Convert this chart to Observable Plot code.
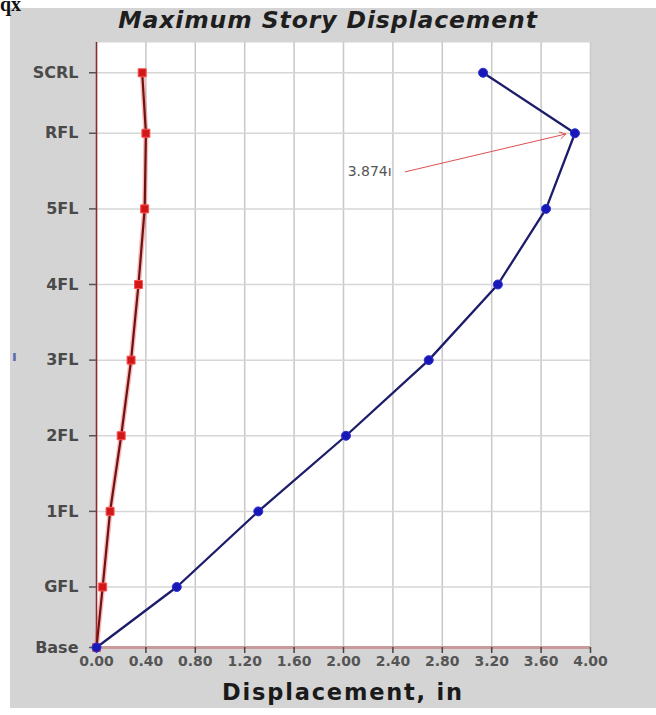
<!DOCTYPE html>
<html><head><meta charset="utf-8">
<script src="https://cdn.jsdelivr.net/npm/d3@7"></script>
<script src="https://cdn.jsdelivr.net/npm/@observablehq/plot@0.6"></script>
<style>
body{margin:0;background:#fff;}
#wrap{position:relative;width:656px;height:715px;overflow:hidden;background:#fff;}
#bg{position:absolute;left:10px;top:8px;width:646px;height:700px;background:#d4d4d4;}
#qx{position:absolute;left:0;top:-7px;font:bold 20px "Liberation Serif",serif;color:#111;}
#mark{position:absolute;left:12px;top:348px;font:bold 14px "DejaVu Sans",sans-serif;color:#5a6aa8;}
#title{position:absolute;left:0;width:656px;top:6px;text-align:center;font:italic bold 23.5px "DejaVu Sans",sans-serif;color:#1e1e1e;letter-spacing:0.9px;}
#xlabel{position:absolute;left:96px;width:494px;top:679px;text-align:center;font:bold 22.5px "DejaVu Sans",sans-serif;color:#1a1a1a;letter-spacing:1.8px;}
#chart{position:absolute;left:0;top:0;}
</style></head>
<body>
<div id="wrap">
<div id="bg"></div>
<div id="qx">qx</div>
<div id="mark">ı</div>
<div id="title">Maximum Story Displacement</div>
<div id="chart"></div>
<div id="xlabel">Displacement, in</div>
</div>
<script>
const stories = ["Base","GFL","1FL","2FL","3FL","4FL","5FL","RFL","SCRL"];
const elevations = [0, 8, 18, 28, 38, 48, 58, 68, 76];
const dispRed = [0, 0.05, 0.11, 0.20, 0.28, 0.34, 0.39, 0.40, 0.37];
const dispBlue = [0, 0.65, 1.31, 2.02, 2.69, 3.25, 3.64, 3.874, 3.13];
const xTicks = [0, 0.4, 0.8, 1.2, 1.6, 2.0, 2.4, 2.8, 3.2, 3.6, 4.0];
const annotation = [{label: "3.874ı", textX: 2.39, textY: 62.9, x1: 2.50, y1: 62.9, x2: 3.80, y2: 67.9}];

const red = stories.map((s, i) => ({story: s, elev: elevations[i], d: dispRed[i]}));
const blue = stories.map((s, i) => ({story: s, elev: elevations[i], d: dispBlue[i]}));

const chart = Plot.plot({
  width: 656, height: 715,
  marginLeft: 96, marginRight: 66, marginTop: 42, marginBottom: 68,
  style: {background: "transparent", fontFamily: "DejaVu Sans, sans-serif", fontSize: "14px", color: "#555"},
  x: {domain: [0, 4], ticks: xTicks},
  y: {domain: [0, 80]},
  marks: [
    Plot.frame({fill: "white", stroke: null}),
    Plot.gridX(xTicks, {stroke: "#c8c8c8", strokeOpacity: 1, strokeWidth: 1.5}),
    Plot.gridY(elevations, {stroke: "#d6d6d6", strokeOpacity: 1, strokeWidth: 1.5}),
    Plot.ruleY([0], {stroke: "#c89a9a", strokeWidth: 3}),
    Plot.ruleX([0], {stroke: "#8a2a2a", strokeWidth: 1.5}),
    Plot.axisX(xTicks, {tickFormat: d3.format(".2f"), tickSize: 6, tickPadding: 3, stroke: "#444", strokeWidth: 1.5, label: null, fill: "#555", fontSize: 14, fontWeight: "bold", letterSpacing: 0.5}),
    Plot.axisY(elevations, {tickFormat: (d) => stories[elevations.indexOf(d)], tickSize: 7, tickPadding: 11, stroke: "#555", strokeWidth: 1.5, label: null, fill: "#4a4a4a", fontSize: 16, fontWeight: "bold", letterSpacing: 2}),
    Plot.line(red, {x: "d", y: "elev", stroke: "#ff3030", strokeWidth: 5, strokeOpacity: 0.35}),
    Plot.line(red, {x: "d", y: "elev", stroke: "#6a1515", strokeWidth: 2.2}),
    Plot.dot(red, {x: "d", y: "elev", symbol: "square", r: 4.5, fill: "#d01818", stroke: "#ff5050", strokeWidth: 1}),
    Plot.line(blue, {x: "d", y: "elev", stroke: "#1c1c6a", strokeWidth: 2.3}),
    Plot.dot(blue, {x: "d", y: "elev", r: 4.5, fill: "#1818b8", stroke: "#3030d0", strokeWidth: 1}),
    Plot.arrow(annotation, {x1: "x1", y1: "y1", x2: "x2", y2: "y2", stroke: "#e05050", strokeWidth: 1, headLength: 10}),
    Plot.text(annotation, {x: "textX", y: "textY", text: "label", textAnchor: "end", fill: "#555", fontSize: 14, letterSpacing: 0.8})
  ]
});
document.getElementById("chart").appendChild(chart);
</script>
</body></html>
